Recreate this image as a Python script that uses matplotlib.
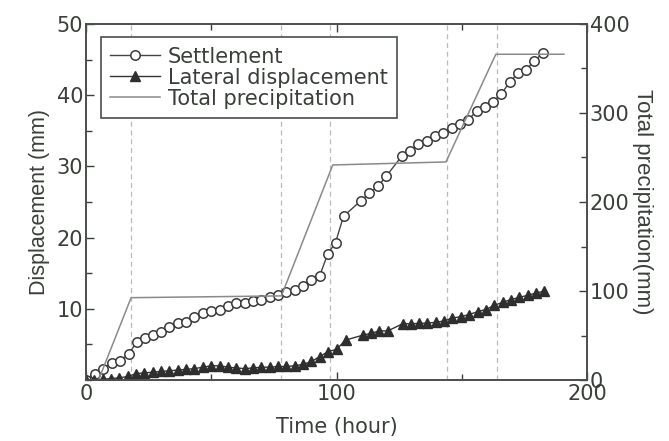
import matplotlib
matplotlib.use("Agg")
import matplotlib.pyplot as plt
from matplotlib.ticker import MultipleLocator

plt.rcParams['font.family'] = ['DejaVu Sans']

# settlement (mm) vs time (hour)
settle_t = [0, 3.6, 6.9, 10.2, 13.5, 17, 20.2, 23.5, 26.8, 30, 33.3, 36.6, 40, 43.3,
            46.6, 50, 53.3, 56.6, 60, 63.3, 66.6, 70, 73.3, 76.6, 80, 83.3, 86.6, 90,
            93.3, 96.5, 99.6, 102.8, 109.8, 113, 116.5, 119.8, 126.2, 129.4, 132.7,
            136, 139.4, 142.6, 146, 149.3, 152.6, 155.9, 159.2, 162.5, 165.8, 169.1,
            172.4, 175.7, 179, 182.3]
settle_v = [0, 0.9, 1.6, 2.4, 2.7, 3.65, 5.3, 5.85, 6.3, 6.8, 7.5, 7.95, 8.2, 8.9,
            9.45, 9.7, 9.9, 10.4, 10.8, 10.8, 11.1, 11.3, 11.7, 11.9, 12.3, 12.6, 13.2, 14.0,
            14.65, 17.7, 19.3, 23.0, 25.2, 26.2, 27.2, 28.6, 31.5, 32.2, 33.2,
            33.6, 34.3, 34.7, 35.4, 36.0, 36.5, 37.8, 38.4, 39.1, 40.2, 41.8,
            43.1, 43.6, 44.8, 45.9]

# lateral displacement (mm)
lat_t = [0, 3.3, 6.7, 10, 13.3, 16.7, 20, 23.3, 26.7, 30, 33.3, 36.7, 40, 43.3, 46.7,
         50, 53.3, 56.7, 60, 63.3, 66.7, 70, 73.3, 76.7, 80, 83.3, 86.7, 90, 93.3, 96.7,
         100, 103.6, 110.5, 113.8, 117, 120.5, 126.4, 129.7, 133, 136.3, 139.6, 143,
         146.3, 149.7, 153, 156.3, 159.6, 163, 166.3, 169.6, 173, 176.3, 179.6, 183]
lat_v = [0, 0.0, 0.1, 0.2, 0.3, 0.5, 0.9, 1.0, 1.1, 1.2, 1.3, 1.4, 1.5, 1.6, 1.8,
         2.0, 2.0, 1.8, 1.7, 1.6, 1.7, 1.8, 1.8, 1.9, 1.9, 2.0, 2.2, 2.6, 3.3, 4.0,
         4.3, 5.6, 6.3, 6.55, 6.9, 6.9, 7.9, 7.9, 7.95, 8.0, 8.1, 8.3,
         8.7, 8.9, 9.2, 9.6, 9.9, 10.5, 10.9, 11.3, 11.6, 11.9, 12.2, 12.5]

# total precipitation (mm)
rain_t = [5, 18, 78, 98.5, 143.7, 163.6, 190.8]
rain_v = [0, 92.5, 94.5, 241.6, 245, 366, 366]

# rain event boundaries (hour)
events = [18, 78, 97.6, 144, 164]

txt = '#3a3f3a'

fig = plt.figure(figsize=(6.69, 4.41), dpi=100)
ax = fig.add_axes([0.1286, 0.1383, 0.7488, 0.8073])
ax2 = ax.twinx()

for e in events:
    ax.axvline(e, color='#bbbbbb', lw=0.9, ls=(0, (4, 3)), zorder=0)

l1, = ax.plot(settle_t, settle_v, '-o', color='#444444', lw=1.0, ms=6.8,
              mfc='white', mec='#3a3a3a', mew=1.1, label='Settlement')
l2, = ax.plot(lat_t, lat_v, '-^', color='#333333', lw=1.0, ms=6.5,
              mfc='#2e2e2e', mec='#2e2e2e', label='Lateral displacement')
l3, = ax2.plot(rain_t, rain_v, '-', color='#8a8a8a', lw=1.1, label='Total precipitation')

ax.set_xlim(0, 200)
ax.set_ylim(0, 50)
ax2.set_ylim(0, 400)

ax.set_xticks([0, 100, 200])
ax.xaxis.set_minor_locator(MultipleLocator(50))
ax.set_yticks([10, 20, 30, 40, 50])
ax.yaxis.set_minor_locator(MultipleLocator(5))
ax2.set_yticks([0, 100, 200, 300, 400])
ax2.yaxis.set_minor_locator(MultipleLocator(50))

for a in (ax, ax2):
    a.tick_params(which='both', direction='in', colors=txt, labelsize=15)
    a.tick_params(which='major', length=6, width=1)
    a.tick_params(which='minor', length=4, width=1)
    for s in a.spines.values():
        s.set_color('#4a4f4a')
        s.set_linewidth(1.2)
ax.tick_params(axis='x', which='both', top=True, pad=3)
ax.tick_params(axis='y', pad=2)
ax2.tick_params(axis='y', pad=2)

ax.set_xlabel('Time (hour)', fontsize=15, color=txt, labelpad=9)
ax.set_ylabel('Displacement (mm)', fontsize=15.5, color=txt, labelpad=5,
              family='Liberation Sans')
ax2.set_ylabel('Total precipitation(mm)', fontsize=16, color=txt, rotation=-90,
               labelpad=17, family='Liberation Sans')

leg = ax2.legend(handles=[l1, l2, l3], loc='upper left', bbox_to_anchor=(0.03, 0.963),
                 fontsize=15, frameon=True, fancybox=False, edgecolor='#4a4f4a',
                 framealpha=1, borderpad=0.45, labelspacing=0.05, handlelength=2.4,
                 handletextpad=0.35, borderaxespad=0)
leg.get_frame().set_linewidth(1.2)
for t in leg.get_texts():
    t.set_color(txt)

fig.savefig('out.png', dpi=100)
